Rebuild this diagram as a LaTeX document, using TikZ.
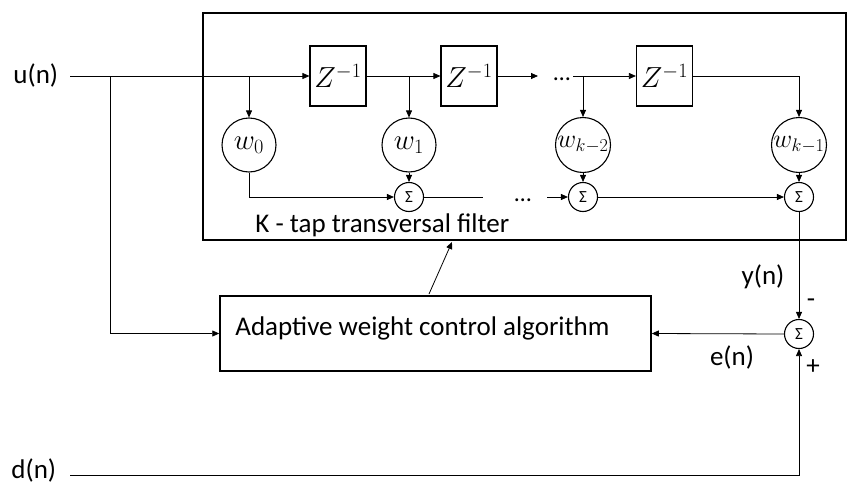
\RequirePackage{fix-cm}
\documentclass[tikz,border=0pt]{standalone}
\usepackage{fontspec}
\setmainfont{Carlito}
\usetikzlibrary{arrows.meta}
\tikzset{
  arr/.style={-{Triangle[length=7pt,width=6pt]}},
  zbox/.style={draw, line width=1.2pt, minimum width=56pt, minimum height=60pt, inner sep=0pt, font=\fontsize{29}{31}\selectfont},
  wnode/.style={draw, circle, line width=1.1pt, minimum size=54pt, inner sep=0pt, font=\fontsize{29}{31}\selectfont},
  wsmall/.style={draw, circle, line width=1.1pt, minimum size=55pt, inner sep=0pt, font=\fontsize{26}{28}\selectfont},
  sumnode/.style={draw, circle, line width=1.1pt, minimum size=29pt, inner sep=0pt, font=\fontsize{17}{18}\selectfont},
  lbl/.style={font=\fontsize{27}{30}\selectfont, inner sep=0pt},
  dotsnode/.style={font=\fontsize{24}{26}\selectfont, inner sep=0pt, anchor=base}
}
\begin{document}
\begin{tikzpicture}[x=1pt,y=-1pt, line width=0.8pt]
\useasboundingbox (0,0) rectangle (848,487);
% filter box
\node[draw, line width=1.5pt, minimum width=643pt, minimum height=227pt, inner sep=0pt] (filt) at (524.5,126.5) {};
\node[lbl, anchor=west] (ktap) at (255,225) {K - tap transversal filter};
% delay boxes
\node[zbox] (z1) at (338,76) {$Z^{-1}$};
\node[zbox] (z2) at (469,76) {$Z^{-1}$};
\node[zbox] (z3) at (664.5,76) {$Z^{-1}$};
% weights
\node[wnode] (w0) at (249,145) {$w_0$};
\node[wnode] (w1) at (409,145) {$w_1$};
\node[wsmall] (wk2) at (583,145) {$w_{k-2}$};
\node[wsmall] (wk1) at (799,145) {$w_{k-1}$};
% sums
\node[sumnode] (s1) at (409,197) {Σ};
\node[sumnode] (sk2) at (583,197) {Σ};
\node[sumnode] (sk1) at (799,197) {Σ};
\node[sumnode] (se) at (799,334) {Σ};
% adaptive box
\node[draw, line width=1.5pt, minimum width=431pt, minimum height=75pt, inner sep=0pt] (adapt) at (435.5,333.5) {};
\node[lbl, anchor=west] (adaptlbl) at (235,328) {Adaptive weight control algorithm};
% labels
\node[lbl, anchor=west] (ulbl) at (13,75) {u(n)};
\node[lbl, anchor=west] (dlbl) at (11,470) {d(n)};
\node[lbl] (ylbl) at (763,277) {y(n)};
\node[lbl] (elbl) at (732,357) {e(n)};
\node[lbl] (minus) at (811,303) {-};
\node[lbl] (plus) at (813,367) {+};
\node[dotsnode] (dtop) at (562,80) {…};
\node[dotsnode] (dbot) at (523,201) {…};
% coordinates
\coordinate (uin) at (70,76);
\coordinate (b0) at (110,76);
\coordinate (t0) at (249,76);
\coordinate (t1) at (409,76);
\coordinate (a2) at (538,76);
\coordinate (tk2s) at (573,76);
\coordinate (tk2) at (583,76);
\coordinate (bs1) at (483,197);
\coordinate (bk2s) at (547,197);
\coordinate (din) at (70,475);
\coordinate (fa) at (429,294);
\coordinate (fb) at (452,242);
% connectors
\draw (uin) -- (t0);
\draw[arr] (t0) -- (z1.west);
\draw[arr] (t0) -- (w0.north);
\draw (z1.east) -- (t1);
\draw[arr] (t1) -- (z2.west);
\draw[arr] (t1) -- (w1.north);
\draw[arr] (z2.east) -- (a2);
\draw (tk2s) -- (tk2);
\draw[arr] (tk2) -- (z3.west);
\draw[arr] (tk2) -- (wk2.north);
\draw[arr] (z3.east) -| (wk1.north);
\draw[arr] (w0.south) |- (s1.west);
\draw[arr] (w1.south) -- (s1.north);
\draw (s1.east) -- (bs1);
\draw[arr] (bk2s) -- (sk2.west);
\draw[arr] (wk2.south) -- (sk2.north);
\draw[arr] (sk2.east) -- (sk1.west);
\draw[arr] (wk1.south) -- (sk1.north);
\draw[arr] (sk1.south) -- (se.north);
\draw[arr] (se.west) -- (adapt.east);
\draw[arr] (din) -| (se.south);
\draw[arr] (b0) |- (adapt.west);
\draw[arr] (fa) -- (fb);
\end{tikzpicture}
\end{document}
